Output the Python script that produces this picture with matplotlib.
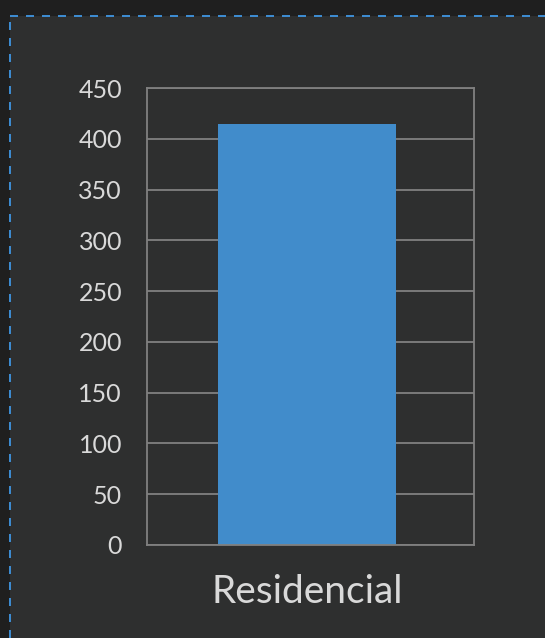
import matplotlib
matplotlib.use("Agg")
import matplotlib.pyplot as plt
from matplotlib.lines import Line2D
from matplotlib.patches import Rectangle

# dados do gráfico
categorias = ["Residencial"]
valores = [415]
yticks = [0, 50, 100, 150, 200, 250, 300, 350, 400, 450]

FUNDO = "#1f1f1f"
PAINEL = "#2e2f2f"
AZUL = "#418ccb"
GRADE = "#808080"
TEXTO = "#d9d9d9"

plt.rcParams["font.family"] = ["Lato", "DejaVu Sans"]

W, H = 545, 638
fig = plt.figure(figsize=(W / 100, H / 100), dpi=100, facecolor=FUNDO)

# painel com borda tracejada (só topo e esquerda visíveis)
x0, y0 = 10 / W, 1 - 16 / H
fig.add_artist(Rectangle((x0, 0), 1 - x0, y0, transform=fig.transFigure,
                         facecolor=PAINEL, edgecolor="none", zorder=-5))
for xs, ys in [([x0, 1], [y0, y0]), ([x0, x0], [0, y0])]:
    fig.add_artist(Line2D(xs, ys, transform=fig.transFigure, color="#3d8bd0",
                          lw=1.44, linestyle=(0, (4, 4)), zorder=-4))

ax = fig.add_axes([147 / W, 1 - 545 / H, 327 / W, 457 / H])
ax.set_zorder(1)
ax.set_facecolor(PAINEL)
ax.bar(range(len(categorias)), valores, width=0.544, color=AZUL, zorder=2)

ax.set_xlim(-0.489, 0.511)
ax.set_ylim(0, 450)
ax.set_yticks(yticks)
ax.set_xticks(range(len(categorias)))
ax.set_xticklabels(categorias)

ax.grid(axis="y", color=GRADE, linewidth=1.3, zorder=1)
for s in ax.spines.values():
    s.set_color(GRADE)
    s.set_linewidth(1.3)

ax.tick_params(axis="y", length=0, pad=18, labelsize=18, labelcolor=TEXTO)
ax.tick_params(axis="x", length=0, pad=21, labelsize=28, labelcolor=TEXTO)

fig.savefig("out.png", dpi=100, facecolor=FUNDO)
